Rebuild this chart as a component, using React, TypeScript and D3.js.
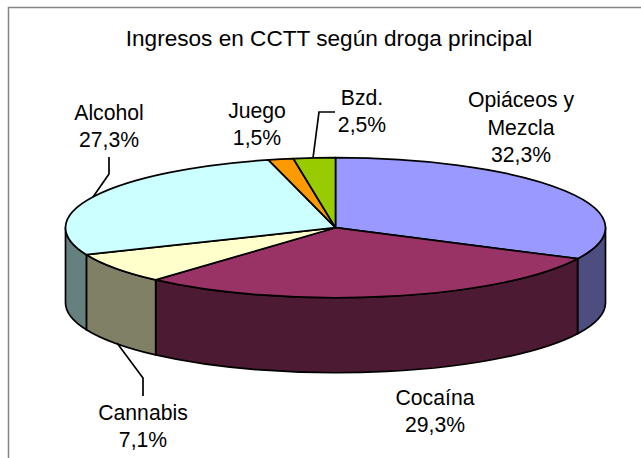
import React from 'react'
import * as d3 from 'd3'

const title = 'Ingresos en CCTT según droga principal'
const categories = ['Opiáceos y Mezcla', 'Cocaína', 'Cannabis', 'Alcohol', 'Juego', 'Bzd.']
const values = [32.3, 29.3, 7.1, 27.3, 1.5, 2.5]
const topColors = ['#9999FF', '#993366', '#FFFFCC', '#CCFFFF', '#FF9900', '#99CC00']
const sideColors = ['#4D4D80', '#4D1A33', '#808066', '#668080', '#804D00', '#4D6600']

const labelLines = [
  ['Opiáceos y', 'Mezcla', '32,3%'],
  ['Cocaína', '29,3%'],
  ['Cannabis', '7,1%'],
  ['Alcohol', '27,3%'],
  ['Juego', '1,5%'],
  ['Bzd.', '2,5%'],
]
const labelPos = [
  {x: 521, y: 107, dy: 27.5},
  {x: 435, y: 405, dy: 27},
  {x: 143, y: 420, dy: 27},
  {x: 109, y: 120, dy: 27},
  {x: 257, y: 118, dy: 27},
  {x: 362, y: 105, dy: 27},
]
const leaders: [number, number][][] = [
  [[109, 157], [109, 174], [93, 197]],
  [[335, 112], [319, 112], [313, 158]],
  [[143, 396], [143, 378], [117, 343]],
]

const width = 641
const height = 458
const cx = 335.5
const cy = 227.7
const rx = 270
const ry = 70
const depth = 75

const xScale = d3.scaleLinear().domain([-1, 1]).range([cx - rx, cx + rx])
const yScale = d3.scaleLinear().domain([-1, 1]).range([cy + ry, cy - ry])
const px = (a: number) => xScale(Math.sin(a))
const py = (a: number) => yScale(Math.cos(a))

const slices = d3.pie<number>().sort(null).value(d => d)(values)

function topPath(a0: number, a1: number) {
  const large = a1 - a0 > Math.PI ? 1 : 0
  return `M${cx},${cy}L${px(a0)},${py(a0)}A${rx},${ry} 0 ${large} 1 ${px(a1)},${py(a1)}Z`
}

// only the front half of the rim shows (right extreme round to left extreme)
function sidePath(a0: number, a1: number) {
  const s = Math.max(a0, Math.PI / 2)
  const e = Math.min(a1, (3 * Math.PI) / 2)
  if (e <= s) return null
  return (
    `M${px(s)},${py(s)}A${rx},${ry} 0 0 1 ${px(e)},${py(e)}` +
    `L${px(e)},${py(e) + depth}A${rx},${ry} 0 0 0 ${px(s)},${py(s) + depth}Z`
  )
}

const line = d3.line()

export default function App() {
  return (
    <svg
      width={width}
      height={height}
      style={{position: 'absolute', left: 0, top: 0, background: '#fff'}}
      fontFamily="'Liberation Sans', Arial, sans-serif"
    >
      <path d={`M8.5,${height}V7.5H${width}`} fill="none" stroke="#858585" strokeWidth={1.5} />
      <text x={329} y={46} fontSize={22.6} textAnchor="middle" fill="#000">{title}</text>

      {slices.map((d, i) => {
        const p = sidePath(d.startAngle, d.endAngle)
        return p && <path key={i} d={p} fill={sideColors[i]} stroke="#000" strokeWidth={1.7} strokeLinejoin="round" />
      })}
      {slices.map((d, i) => (
        <path key={categories[i]} d={topPath(d.startAngle, d.endAngle)} fill={topColors[i]} stroke="#000" strokeWidth={1.7} strokeLinejoin="round" />
      ))}

      {leaders.map((l, i) => (
        <path key={i} d={line(l) as string} fill="none" stroke="#000" strokeWidth={1.7} />
      ))}

      {labelLines.map((lines, i) => (
        <text key={i} fontSize={21.2} textAnchor="middle" fill="#000">
          {lines.map((t, j) => (
            <tspan key={j} x={labelPos[i].x} y={labelPos[i].y + j * labelPos[i].dy}>{t}</tspan>
          ))}
        </text>
      ))}
    </svg>
  )
}
